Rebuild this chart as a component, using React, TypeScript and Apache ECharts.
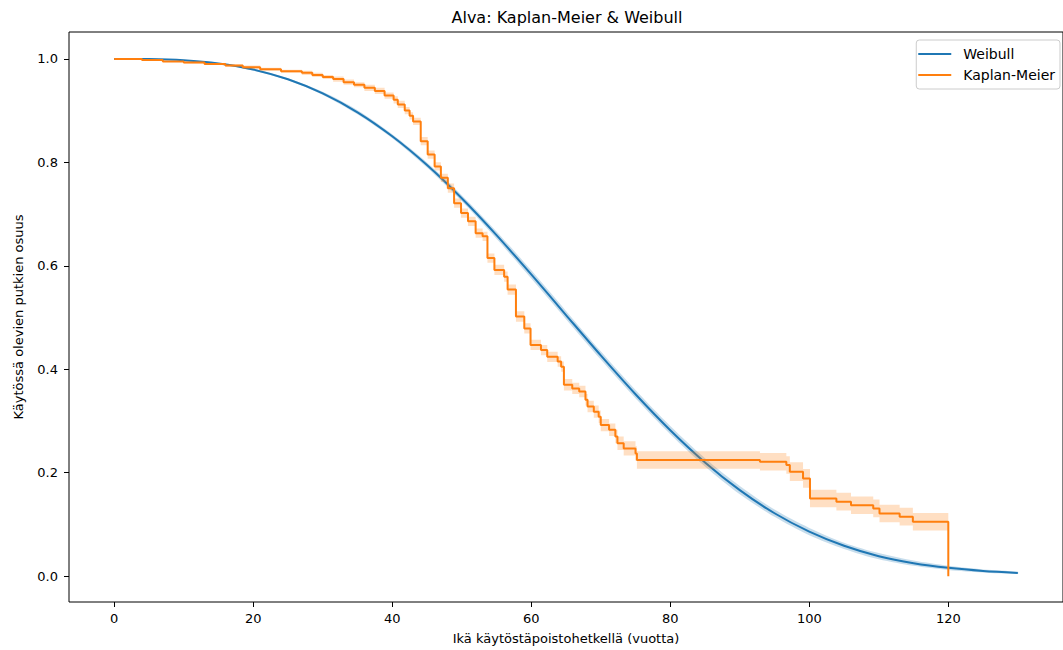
import React, { useEffect, useRef } from "react";
import * as echarts from "echarts";

// Weibull fit, every 5 years
const weibullTime = [0, 5, 10, 15, 20, 25, 30, 35, 40, 45, 50, 55, 60, 65, 70, 75, 80, 85, 90, 95, 100, 105, 110, 115, 120, 125, 130];
const weibullSurv = [1.0, 0.9997, 0.9974, 0.9912, 0.9795, 0.9606, 0.9333, 0.8968, 0.8504, 0.7948, 0.7306, 0.6594, 0.5833, 0.5048, 0.4268, 0.3517, 0.2822, 0.2199, 0.1663, 0.1216, 0.0861, 0.0587, 0.0386, 0.025, 0.016, 0.010, 0.0063];
const weibullCi = [0, 0, 0.001, 0.001, 0.002, 0.002, 0.003, 0.004, 0.004, 0.005, 0.006, 0.007, 0.008, 0.008, 0.008, 0.008, 0.008, 0.008, 0.008, 0.007, 0.007, 0.006, 0.006, 0.005, 0.004, 0.003, 0.002];

// Kaplan-Meier steps (time of drop, survival after drop, CI half width)
const kmTime = [0, 4, 7, 10, 13, 16, 18.5, 21, 24, 27, 28.5, 30, 31.5, 33, 34.5, 36, 37.5, 38.9, 40.2, 40.8, 41.8, 42.5, 43.0, 44.1, 45.1, 46.1, 47.0, 48.0, 48.9, 49.9, 50.9, 52.0, 53.0, 53.7, 54.7, 56.1, 56.6, 57.8, 59.0, 59.9, 61.4, 62.3, 63.8, 64.3, 64.7, 65.9, 66.9, 67.8, 68.1, 69.0, 69.7, 70.0, 71.2, 72.1, 72.4, 73.3, 75.0, 75.2, 92.9, 96.7, 97.2, 99.1, 100.1, 103.9, 106.0, 109.2, 110.1, 113.0, 114.9, 120];
const kmSurv = [1.0, 0.998, 0.995, 0.993, 0.99, 0.987, 0.984, 0.98, 0.976, 0.973, 0.969, 0.965, 0.961, 0.955, 0.95, 0.944, 0.938, 0.929, 0.921, 0.912, 0.9, 0.89, 0.879, 0.841, 0.815, 0.792, 0.77, 0.75, 0.721, 0.702, 0.686, 0.663, 0.657, 0.615, 0.592, 0.579, 0.554, 0.502, 0.479, 0.447, 0.437, 0.424, 0.415, 0.405, 0.37, 0.363, 0.357, 0.341, 0.328, 0.318, 0.308, 0.292, 0.283, 0.27, 0.257, 0.247, 0.237, 0.2245, 0.221, 0.215, 0.202, 0.189, 0.15, 0.144, 0.137, 0.131, 0.121, 0.115, 0.105, 0];
const kmCi = [0, 0.001, 0.001, 0.002, 0.002, 0.002, 0.003, 0.003, 0.003, 0.004, 0.004, 0.004, 0.005, 0.005, 0.005, 0.006, 0.006, 0.006, 0.007, 0.007, 0.007, 0.007, 0.007, 0.008, 0.008, 0.008, 0.008, 0.009, 0.009, 0.009, 0.009, 0.009, 0.009, 0.009, 0.01, 0.01, 0.01, 0.01, 0.01, 0.01, 0.01, 0.01, 0.01, 0.01, 0.011, 0.011, 0.011, 0.011, 0.011, 0.012, 0.012, 0.012, 0.012, 0.013, 0.013, 0.014, 0.014, 0.017, 0.017, 0.017, 0.018, 0.018, 0.017, 0.017, 0.017, 0.017, 0.017, 0.017, 0.017, 0];

const xTicks = [0, 20, 40, 60, 80, 100, 120];
const yTicks = [0, 0.2, 0.4, 0.6, 0.8, 1.0];

const BLUE = "#1f77b4";
const ORANGE = "#ff7f0e";
const FONT = "DejaVu Sans";

export default function App() {
  const ref = useRef<HTMLDivElement>(null);
  useEffect(() => {
    if (!ref.current) return;
    const chart = echarts.init(ref.current, null, { renderer: "svg" });
    const wLine = weibullTime.map((t, i) => [t, weibullSurv[i]]);
    const kLine = kmTime.map((t, i) => [t, kmSurv[i]]);
    const axisText = { fontFamily: FONT, fontSize: 13, color: "#000" };

    const weibullBand = (params: any, api: any) => {
      if (params.dataIndex !== 0) return null;
      const pts: number[][] = [];
      for (let i = 0; i < weibullTime.length; i++) pts.push(api.coord([weibullTime[i], weibullSurv[i] + weibullCi[i]]));
      for (let i = weibullTime.length - 1; i >= 0; i--) pts.push(api.coord([weibullTime[i], weibullSurv[i] - weibullCi[i]]));
      return { type: "polygon", shape: { points: pts, smooth: 0.3 }, style: { fill: "rgba(31,119,180,0.25)", stroke: "none" }, silent: true };
    };
    const kmBand = (params: any, api: any) => {
      if (params.dataIndex !== 0) return null;
      const pts: number[][] = [];
      const n = kmTime.length;
      for (let i = 0; i < n - 1; i++) {
        const up = kmSurv[i] + kmCi[i];
        pts.push(api.coord([kmTime[i], up]));
        pts.push(api.coord([kmTime[i + 1], up]));
      }
      for (let i = n - 2; i >= 0; i--) {
        const lo = kmSurv[i] - kmCi[i];
        pts.push(api.coord([kmTime[i + 1], lo]));
        pts.push(api.coord([kmTime[i], lo]));
      }
      return { type: "polygon", shape: { points: pts }, style: { fill: "rgba(255,127,14,0.25)", stroke: "none" }, silent: true };
    };

    chart.setOption({
      animation: false,
      grid: { left: 69, top: 32, width: 997, height: 570, show: true, borderColor: "#000", borderWidth: 1, backgroundColor: "transparent" },
      graphic: [
        {
          type: "text",
          x: 567,
          y: 17,
          style: { text: "Alva: Kaplan-Meier & Weibull", fontFamily: FONT, fontSize: 16, fill: "#000", align: "center", verticalAlign: "middle" },
        },
      ],
      legend: {
        data: ["Weibull", "Kaplan-Meier"],
        orient: "vertical",
        right: 3,
        top: 40,
        itemWidth: 40,
        itemHeight: 2,
        itemGap: 7,
        icon: "path://M0,0H33V2H0ZM39.99,0H40V2H39.99Z",
        padding: [7, 5, 7, 2],
        borderColor: "#ccc",
        borderWidth: 1,
        borderRadius: 3,
        backgroundColor: "rgba(255,255,255,0.8)",
        textStyle: { fontFamily: FONT, fontSize: 14, color: "#000" },
      },
      xAxis: {
        type: "value",
        min: -6.5,
        max: 136.5,
        name: "Ikä käytöstäpoistohetkellä (vuotta)",
        nameLocation: "middle",
        nameGap: 30,
        nameTextStyle: axisText,
        axisLine: { show: false, onZero: false },
        axisTick: { show: true, length: 5, customValues: xTicks, lineStyle: { color: "#000" } },
        axisLabel: { ...axisText, margin: 10, customValues: xTicks, formatter: (v: number) => String(v) },
        splitLine: { show: false },
      },
      yAxis: {
        type: "value",
        min: -0.05,
        max: 1.052,
        name: "Käytössä olevien putkien osuus",
        nameLocation: "middle",
        nameGap: 44,
        nameTextStyle: axisText,
        axisLine: { show: false, onZero: false },
        axisTick: { show: true, length: 5, customValues: yTicks, lineStyle: { color: "#000" } },
        axisLabel: { ...axisText, margin: 11, customValues: yTicks, formatter: (v: number) => v.toFixed(1) },
        splitLine: { show: false },
      },
      series: [
        {
          name: "Weibull CI",
          type: "custom",
          data: wLine,
          renderItem: weibullBand,
          silent: true,
          z: 1,
        },
        {
          name: "Weibull",
          type: "line",
          data: wLine,
          smooth: 0.3,
          symbol: "none",
          color: BLUE,
          lineStyle: { color: BLUE, width: 2 },
          z: 2,
        },
        {
          name: "Kaplan-Meier CI",
          type: "custom",
          data: kLine,
          renderItem: kmBand,
          silent: true,
          z: 3,
        },
        {
          name: "Kaplan-Meier",
          type: "line",
          data: kLine,
          step: "end",
          symbol: "none",
          color: ORANGE,
          lineStyle: { color: ORANGE, width: 2 },
          z: 4,
        },
      ],
    });
    return () => chart.dispose();
  }, []);
  return <div ref={ref} style={{ position: "absolute", left: 0, top: 0, width: 1063, height: 650 }} />;
}
